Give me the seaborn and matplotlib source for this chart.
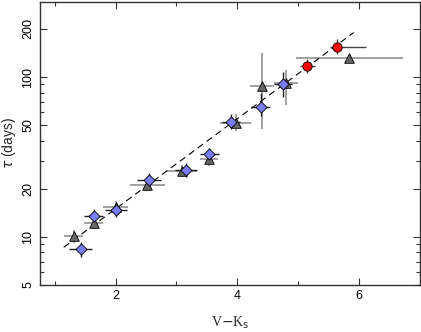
import numpy as np
import pandas as pd
import seaborn as sns
import matplotlib
matplotlib.use("Agg")
import matplotlib.pyplot as plt
from matplotlib.ticker import FixedLocator, NullFormatter, MultipleLocator

# triangles (grey)
tri_x = [1.31, 1.64, 2.00, 2.52, 3.09, 3.53, 3.97, 4.40, 4.80, 5.84]
tri_y = [10.1, 12.2, 15.4, 21.1, 25.9, 30.6, 51.8, 88.0, 92.0, 131.6]
tri_xerr = [0.16, 0.16, 0.20, 0.29, 0.25, 0.15, 0.25, 0.20, 0.20, 0.88]
tri_ylo = [0.9, 1.0, 1.3, 1.8, 2.2, 2.8, 6.0, 41.0, 25.0, 5.0]
tri_yhi = [1.0, 1.1, 1.4, 2.0, 2.4, 3.0, 7.0, 53.0, 18.0, 5.0]

# diamonds (blue)
dia_x = [1.43, 1.64, 2.01, 2.55, 3.15, 3.54, 3.89, 4.38, 4.75]
dia_y = [8.41, 13.5, 14.75, 22.7, 26.2, 32.9, 52.5, 65.3, 90.5]
dia_xerr = [0.19, 0.15, 0.18, 0.20, 0.18, 0.15, 0.15, 0.15, 0.15]
dia_ylo = [0.9, 1.3, 1.4, 2.1, 2.5, 3.0, 5.5, 8.3, 15.5]
dia_yhi = [0.9, 1.4, 1.5, 2.3, 2.7, 3.3, 6.0, 14.1, 16.5]

# circles (red)
cir_x = [5.15, 5.63]
cir_y = [117.0, 154.0]
cir_xlo = [0.12, 0.11]
cir_xhi = [0.12, 0.48]
cir_ylo = [11.0, 15.0]
cir_yhi = [12.0, 18.0]

# fitted relation endpoints
fit_x = [1.15, 5.91]
fit_y = [8.6, 190.0]

sns.set_theme(style="ticks")
plt.rcParams["font.family"] = ["Liberation Sans", "DejaVu Sans"]

fig = plt.figure(figsize=(4.21, 3.32), dpi=100)
ax = fig.add_axes([0.095, 0.142, 0.903, 0.852])

grey_err = "#9a9a9a"
ax.errorbar(tri_x, tri_y, xerr=tri_xerr, yerr=[tri_ylo, tri_yhi], fmt="none",
            ecolor=grey_err, elinewidth=1.3, capsize=0, zorder=1)
ax.errorbar(dia_x, dia_y, xerr=dia_xerr, yerr=[dia_ylo, dia_yhi], fmt="none",
            ecolor="#222222", elinewidth=1.0, capsize=0, zorder=2)
ax.errorbar(cir_x, cir_y, xerr=[cir_xlo, cir_xhi], yerr=[cir_ylo, cir_yhi], fmt="none",
            ecolor="#444444", elinewidth=1.0, capsize=0, zorder=2)

# fit line in log space
fx = np.linspace(fit_x[0], fit_x[1], 50)
slope = (np.log10(fit_y[1]) - np.log10(fit_y[0])) / (fit_x[1] - fit_x[0])
fy = 10 ** (np.log10(fit_y[0]) + slope * (fx - fit_x[0]))
ax.plot(fx, fy, color="black", ls=(0, (6, 4)), lw=0.8, zorder=3)

tri = pd.DataFrame({"x": tri_x, "y": tri_y})
dia = pd.DataFrame({"x": dia_x, "y": dia_y})
cir = pd.DataFrame({"x": cir_x, "y": cir_y})
sns.scatterplot(data=tri, x="x", y="y", marker="^", s=48, color="#666666",
                edgecolor="black", linewidth=0.6, ax=ax, zorder=4)
sns.scatterplot(data=dia, x="x", y="y", marker="D", s=32, color="#7b7bf2",
                edgecolor="black", linewidth=0.6, ax=ax, zorder=5)
sns.scatterplot(data=cir, x="x", y="y", marker="o", s=45, color="#ff0000",
                edgecolor="black", linewidth=0.6, ax=ax, zorder=5)

ax.set_yscale("log")
ax.set_xlim(0.76, 7.0)
ax.set_ylim(5, 295)
ax.xaxis.set_major_locator(FixedLocator([2, 4, 6]))
ax.xaxis.set_minor_locator(MultipleLocator(1))
major_y = [5, 10, 20, 50, 100, 200]
minor_y = [6, 7, 8, 9, 30, 40, 60, 70, 80, 90]
ax.yaxis.set_major_locator(FixedLocator(major_y))
ax.yaxis.set_minor_locator(FixedLocator(minor_y))
ax.set_yticklabels([str(v) for v in major_y], rotation=90, va="center")
ax.yaxis.set_minor_formatter(NullFormatter())

ax.tick_params(which="both", direction="in", top=True, right=True, labelsize=9,
               width=0.8, colors="#333333", labelcolor="black")
ax.tick_params(which="major", length=5, pad=4)
ax.tick_params(which="minor", length=3)
for sp in ax.spines.values():
    sp.set_linewidth(1.0)
    sp.set_color("#333333")

ax.set_xlabel("V$-$K$_\\mathrm{s}$", fontsize=10, family="Liberation Serif", labelpad=9)
ax.set_ylabel("$\\tau$ (days)", fontsize=10, labelpad=3)

fig.savefig("out.png", dpi=100)
